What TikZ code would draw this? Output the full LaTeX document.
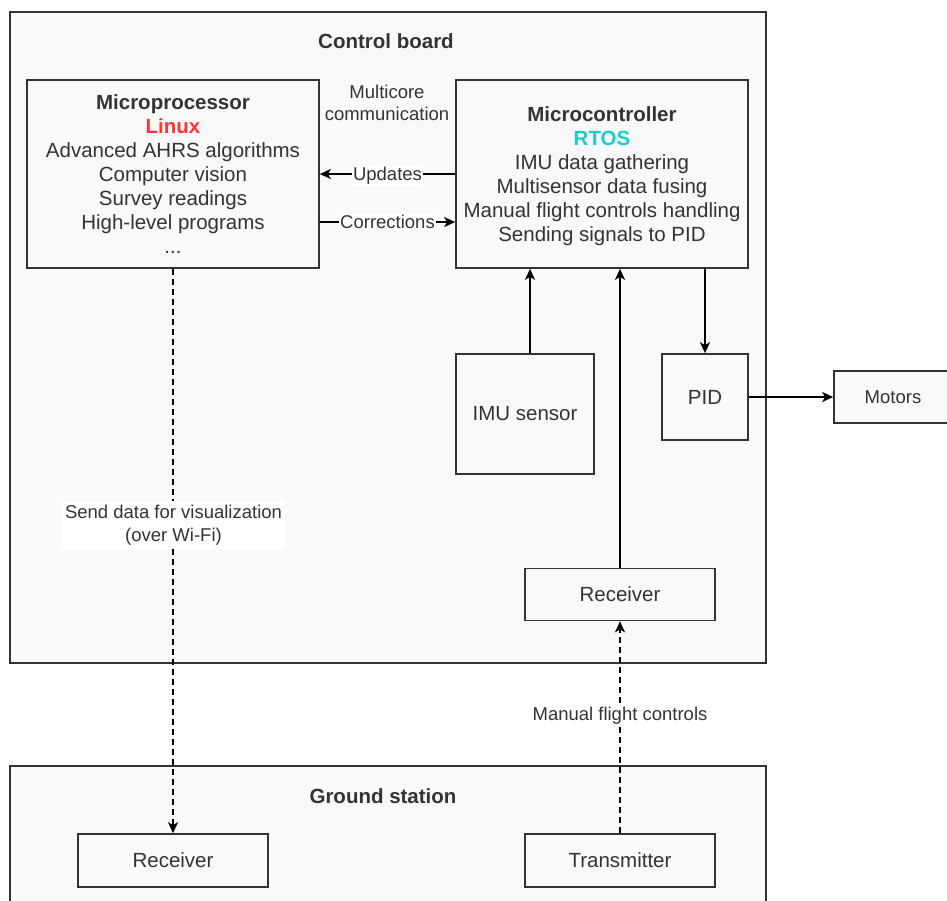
\documentclass[tikz,border=0pt]{standalone}
\usepackage{fontspec}
\setmainfont{Liberation Sans}
\usetikzlibrary{arrows.meta}
\definecolor{txt}{HTML}{333333}
\definecolor{bfill}{HTML}{F9F9F9}
\definecolor{linuxred}{HTML}{FF3333}
\definecolor{rtoscyan}{HTML}{1ACCCC}
\begin{document}
\begin{tikzpicture}[x=1pt,y=-1pt,
  box/.style={draw=txt, line width=1.7pt, fill=bfill, text=txt,
    font=\fontsize{20.5}{24}\selectfont, align=center, inner sep=0pt},
  group/.style={draw=txt, line width=1.7pt, fill=bfill},
  title/.style={text=txt, font=\fontsize{20.5}{24}\selectfont\bfseries},
  lbl/.style={text=txt, font=\fontsize{18.5}{22.5}\selectfont, align=center, fill=white, inner sep=1pt},
  plain/.style={text=txt, font=\fontsize{18.5}{22}\selectfont, align=center, inner sep=1pt},
  arr/.style={-{Stealth[length=11pt,width=10pt,inset=3pt]}, line width=1.7pt, draw=black},
  dsh/.style={arr, dash pattern=on 6pt off 4pt}]
\useasboundingbox (0,0) rectangle (947,900);
\fill[white] (0,0) rectangle (947,900);
% groups
\draw[group] (10,12) rectangle (766,663);
\draw[group] (10,766) rectangle (766,930);
\node[title] (cbt) at (386,41) {Control board};
\node[title] (gst) at (383,796) {Ground station};
% nodes
\node[box, minimum width=292, minimum height=188] (mp) at (173,174)
  {\textbf{Microprocessor}\\\textcolor{linuxred}{\textbf{Linux}}\\Advanced AHRS algorithms\\Computer vision\\Survey readings\\High-level programs\\...};
\node[box, minimum width=292, minimum height=188, text depth=-6pt] (mc) at (602,174)
  {\textbf{Microcontroller}\\\textcolor{rtoscyan}{\textbf{RTOS}}\\IMU data gathering\\Multisensor data fusing\\Manual flight controls handling\\Sending signals to PID};
\node[box, minimum width=138, minimum height=120] (imu) at (525,414) {IMU sensor};
\node[box, minimum width=86, minimum height=86] (pid) at (705,397) {PID};
\node[box, minimum width=118, minimum height=52, font=\fontsize{18.5}{22}\selectfont] (mot) at (893,397) {Motors};
\node[box, minimum width=190, minimum height=52] (rx) at (620,594.5) {Receiver};
\node[box, minimum width=190, minimum height=53] (grx) at (173,860.5) {Receiver};
\node[box, minimum width=190, minimum height=53] (tx) at (620,860.5) {Transmitter};
\node[plain] (mcc) at (387,103) {Multicore\\communication};
% connectors
\draw[arr] (mc.west) -- node[lbl, yshift=-2pt] {Updates} (mp.east);
\draw[arr] ([yshift=-48pt]mp.east) -- node[lbl] {Corrections} ([yshift=-48pt]mc.west);
\draw[arr] ([xshift=5pt]imu.north) -- ([xshift=5pt]imu.north |- mc.south);
\draw[arr] (rx.north) -- (rx.north |- mc.south);
\draw[arr] (pid.north |- mc.south) -- (pid.north);
\draw[arr] (pid.east) -- (mot.west);
\draw[dsh] (mp.south) -- (grx.north);
\node[lbl, inner xsep=3pt, inner ysep=4pt] (sdv) at (173.5,525) {Send data for visualization\\(over Wi-Fi)};
\draw[dsh] (tx.north) -- (rx.south);
\node[lbl] (mfc) at (620,716) {Manual flight controls};
\end{tikzpicture}
\end{document}
